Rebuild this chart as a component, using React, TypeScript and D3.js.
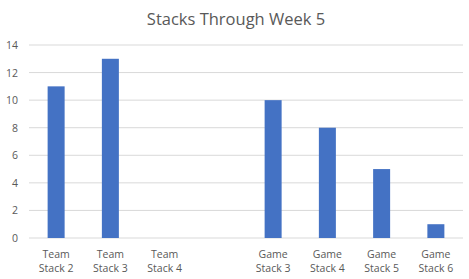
import React from "react";
import * as d3 from "d3";

const categories = ["Team Stack 2", "Team Stack 3", "Team Stack 4", "", "Game Stack 3", "Game Stack 4", "Game Stack 5", "Game Stack 6"];
const values: (number | null)[] = [11, 13, 0, null, 10, 8, 5, 1];
const yTicks = [0, 2, 4, 6, 8, 10, 12, 14];
const title = "Stacks Through Week 5";

const W = 469, H = 279;
const left = 29, right = 463, top = 45, bottom = 238;
const font = "'Open Sans', 'Liberation Sans', sans-serif";

export default function App() {
  const keys = categories.map((c, i) => `${i}`);
  const x = d3.scaleBand<string>().domain(keys).range([left, right]).paddingInner(0).paddingOuter(0);
  const y = d3.scaleLinear().domain([0, 14]).range([bottom, top]);
  const barW = 17;
  return (
    <svg width={W} height={H} style={{ position: "absolute", left: 0, top: 0, background: "#fff" }}>
      <rect x={0} y={0} width={W} height={H} fill="#fff" />
      <text x={236} y={25} textAnchor="middle" fontFamily={font} fontSize={16.5} fill="#595959">{title}</text>
      {yTicks.map(t => (
        <g key={t}>
          <line x1={left} x2={right} y1={y(t)} y2={y(t)} stroke="#d9d9d9" strokeWidth={1} />
          <text x={18} y={y(t) + 4} textAnchor="end" fontFamily={font} fontSize={10.5} fill="#595959">{t}</text>
        </g>
      ))}
      {values.map((v, i) => v === null || v === 0 ? null : (
        <rect key={i} x={x(keys[i])! + x.bandwidth() / 2 - barW / 2} y={y(v)} width={barW} height={y(0) - y(v)} fill="#4472c4" />
      ))}
      {categories.map((c, i) => {
        if (!c) return null;
        const parts = c.split(" ");
        const first = parts[0];
        const rest = parts.slice(1).join(" ");
        const cx = x(keys[i])! + x.bandwidth() / 2;
        return (
          <text key={i} textAnchor="middle" fontFamily={font} fontSize={10.5} fill="#595959">
            <tspan x={cx} y={258}>{first}</tspan>
            <tspan x={cx} y={272}>{rest}</tspan>
          </text>
        );
      })}
    </svg>
  );
}
